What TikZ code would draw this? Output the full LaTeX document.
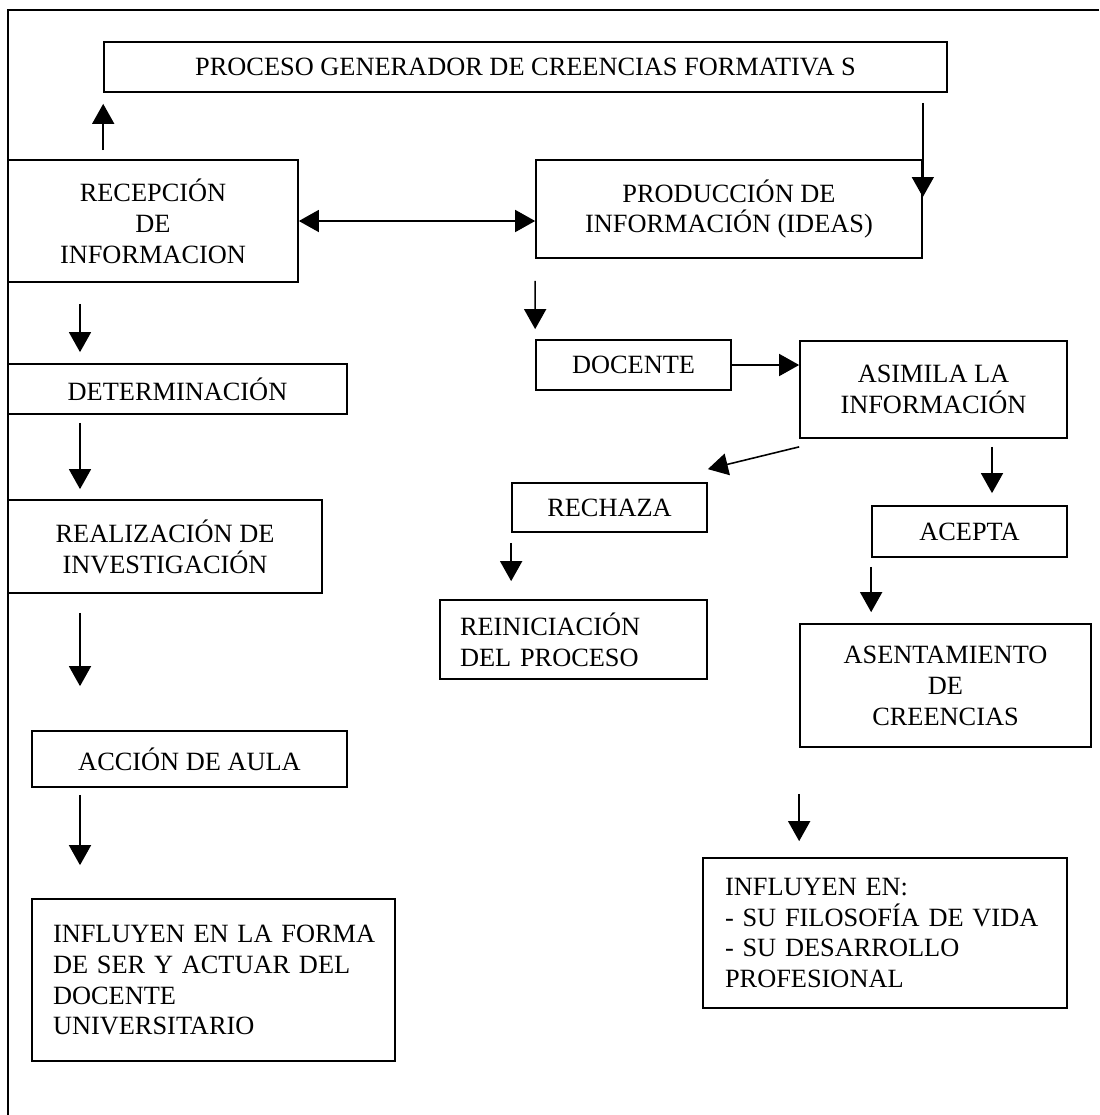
\documentclass[tikz,border=0pt]{standalone}
\usepackage{fontspec}
\setmainfont{Liberation Serif}
\usetikzlibrary{arrows.meta}
\tikzset{caja/.style={rectangle, draw, line width=1pt, inner sep=0pt, align=center, font=\fontsize{15}{17.6}\selectfont}}
\tikzset{cajaizq/.style={caja, align=left, inner xsep=0.42cm}}
\tikzset{marco/.style={line width=1.1pt}}
\tikzset{flecha/.style={-{Triangle[length=0.4cm,width=0.44cm]}, line width=0.9pt}}
\tikzset{flechados/.style={{Triangle[length=0.4cm,width=0.44cm]}-{Triangle[length=0.4cm,width=0.44cm]}, line width=0.9pt}}

\begin{document}
\begin{tikzpicture}[x=0.02cm, y=-0.02cm]
    \useasboundingbox (0,0) rectangle (1099,1115);
    \draw[marco] (1099,10) -- (8,10) -- (8,1115);

    \coordinate (colA) at (80,0);
    \coordinate (colC) at (992,0);

    % parte de arriba
    \node[caja, minimum width=16.86cm, minimum height=1cm] (proceso) at (525.5,67)
        {PROCESO GENERADOR DE CREENCIAS FORMATIVA S};
    \node[caja, minimum width=5.8cm, minimum height=2.44cm] (recep) at (153,221)
        {RECEPCIÓN\\DE\\INFORMACION};
    \node[caja, minimum width=7.72cm, minimum height=1.96cm] (produc) at (729,209)
        {PRODUCCIÓN DE\\INFORMACIÓN (IDEAS)};

    % columna izquierda
    \node[caja, minimum width=6.78cm, minimum height=1cm] (determ) at (177.5,389) {DETERMINACIÓN};
    \node[caja, minimum width=6.28cm, minimum height=1.86cm] (realiz) at (165,546.5)
        {REALIZACIÓN DE\\INVESTIGACIÓN};
    \node[caja, minimum width=6.3cm, minimum height=1.12cm] (accion) at (189.5,759) {ACCIÓN DE AULA};
    \node[cajaizq, text width=6.42cm, minimum width=7.26cm, minimum height=3.24cm] (influA) at (213.5,980)
        {\mbox{INFLUYEN EN LA FORMA}\\\mbox{DE SER Y ACTUAR DEL}\\DOCENTE\\UNIVERSITARIO};

    % columna derecha
    \node[caja, minimum width=3.9cm, minimum height=1cm] (docente) at (633.5,365) {DOCENTE};
    \node[caja, minimum width=5.34cm, minimum height=1.94cm] (asimila) at (933.5,389.5)
        {ASIMILA LA\\INFORMACIÓN};
    \node[caja, minimum width=3.9cm, minimum height=0.98cm] (rechaza) at (609.5,507.5) {RECHAZA};
    \node[caja, minimum width=3.9cm, minimum height=1.02cm] (acepta) at (969.5,531.5) {ACEPTA};
    \node[cajaizq, inner xsep=0.4cm, text width=4.54cm, minimum width=5.34cm, minimum height=1.58cm] (reinic) at (573.5,639.5)
        {REINICIACIÓN\\DEL PROCESO};
    \node[caja, minimum width=5.82cm, minimum height=2.46cm] (asent) at (945.5,685.5)
        {ASENTAMIENTO\\DE\\CREENCIAS};
    \node[cajaizq, inner xsep=0.44cm, text width=6.4cm, minimum width=7.28cm, minimum height=3cm] (influB) at (885,933)
        {INFLUYEN EN:\\\mbox{- SU FILOSOFÍA DE VIDA}\\- SU DESARROLLO\\PROFESIONAL};

    % flechas
    \draw[flecha, shorten <=0.18cm, shorten >=0.22cm] (recep.north -| proceso.west) -- (proceso.south west);
    \draw[flechados] (recep.east) -- (recep.east -| produc.west);
    \draw[flecha, shorten <=0.2cm, shorten >=0.24cm] (proceso.south -| produc.east) -- (produc.east);

    \foreach \a/\b/\s/\e in {recep/determ/0.42/0.22, determ/realiz/0.16/0.2, realiz/accion/0.38/0.88, accion/influA/0.14/0.66} {
            \draw[flecha, shorten <=\s cm, shorten >=\e cm] (\a.south -| colA) -- (\b.north -| colA);
        }

    \draw[flecha, shorten <=0.44cm, shorten >=0.2cm] (produc.south west) -- (docente.north west);
    \draw[flecha] (docente.east) -- (docente.east -| asimila.west);
    \draw[flecha] ([yshift=-0.16cm]asimila.south west) -- ([yshift=0.26cm]rechaza.north east);
    \draw[flecha, shorten <=0.16cm, shorten >=0.24cm] (asimila.south -| colC) -- (acepta.north -| colC);
    \draw[flecha, shorten <=0.2cm, shorten >=0.36cm] (rechaza.south west) -- (rechaza.south west |- reinic.north);
    \draw[flecha, shorten <=0.18cm, shorten >=0.22cm] (acepta.south west) -- (acepta.south west |- asent.north);
    \draw[flecha, shorten <=0.92cm, shorten >=0.32cm] (asent.south west) -- (asent.south west |- influB.north);

\end{tikzpicture}
\end{document}
